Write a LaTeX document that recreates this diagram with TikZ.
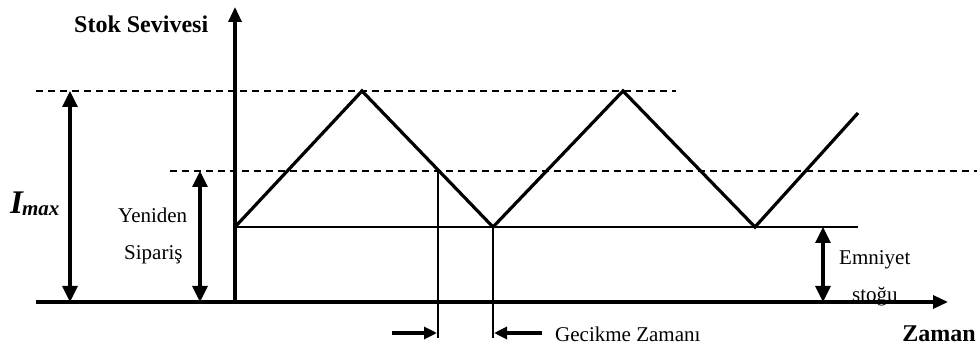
\documentclass[tikz,border=0pt]{standalone}
\usepackage{fontspec}
\setmainfont{Liberation Serif}
\usetikzlibrary{arrows.meta}
\begin{document}
\begin{tikzpicture}[x=1pt,y=-1pt,
  thickln/.style={line width=3.2pt},
  thinln/.style={line width=1.3pt},
  dashln/.style={line width=1.3pt,dash pattern=on 7pt off 5pt},
  tip/.style={-{Triangle[length=15pt,width=13pt]}},
  dtip/.style={{Triangle[length=16pt,width=15pt]}-{Triangle[length=16pt,width=15pt]}},
  stip/.style={-{Triangle[length=13pt,width=12pt]}},
  lbl/.style={inner sep=0pt,font=\fontsize{21}{24}\selectfont},
  blbl/.style={inner sep=0pt,font=\fontsize{24}{27}\selectfont\bfseries}]
\useasboundingbox (0,0) rectangle (977,352);
% coordinates
\coordinate (o) at (235,302);
\coordinate (ytop) at (235,7);
\coordinate (xl) at (36,302);
\coordinate (xr) at (948,302);
\coordinate (p0) at (235,227);
\coordinate (p1) at (362,91);
\coordinate (p2) at (493,227);
\coordinate (p3) at (623,91);
\coordinate (p4) at (755,227);
\coordinate (p5) at (858,113);
\coordinate (d1l) at (36,91);
\coordinate (d1r) at (676,91);
\coordinate (d2l) at (170,171);
\coordinate (d2r) at (977,171);
\coordinate (sr) at (858,227);
\coordinate (imt) at (70,91);
\coordinate (imb) at (70,302);
\coordinate (yst) at (200,171);
\coordinate (ysb) at (200,302);
\coordinate (est) at (823,227);
\coordinate (esb) at (823,302);
\coordinate (v1t) at (438,171);
\coordinate (v1b) at (438,338);
\coordinate (v2t) at (493,227);
\coordinate (v2b) at (493,338);
\coordinate (a1s) at (392,333);
\coordinate (a1e) at (437,333);
\coordinate (a2s) at (542,333);
\coordinate (a2e) at (494,333);
% axes
\draw[thickln,tip] (xl) -- (xr);
\draw[thickln,tip] (o) -- (ytop);
% dashed lines
\draw[dashln] (d1l) -- (d1r);
\draw[dashln] (d2l) -- (d2r);
% safety stock level
\draw[thinln] (p0) -- (sr);
% zigzag
\draw[thickln,line join=miter] (p0) -- (p1) -- (p2) -- (p3) -- (p4) -- (p5);
% dimension arrows
\draw[thickln,dtip] (imt) -- (imb);
\draw[thickln,dtip] (yst) -- (ysb);
\draw[thickln,dtip] (est) -- (esb);
% lead time
\draw[thinln] (v1t) -- (v1b);
\draw[thinln] (v2t) -- (v2b);
\draw[thickln,stip] (a1s) -- (a1e);
\draw[thickln,stip] (a2s) -- (a2e);
% labels
\node[blbl,anchor=base west] (stok) at (74,33) {Stok Sevivesi};
\node[inner sep=0pt,anchor=base west,font=\fontsize{33}{36}\selectfont\bfseries\itshape] (imax) at (10,214) {I\kern-1pt\raisebox{-2pt}{\fontsize{21}{24}\selectfont max}};
\node[lbl,anchor=base west] (yen) at (118,223) {Yeniden};
\node[lbl,anchor=base west] (sip) at (124,260) {Sipariş};
\node[lbl,anchor=base west] (emn) at (839,265) {Emniyet};
\node[lbl,anchor=base west] (stg) at (852,302) {stoğu};
\node[lbl,anchor=base west] (gec) at (555,342) {Gecikme Zamanı};
\node[blbl,anchor=base east] (zam) at (976,342) {Zaman};
\end{tikzpicture}
\end{document}
